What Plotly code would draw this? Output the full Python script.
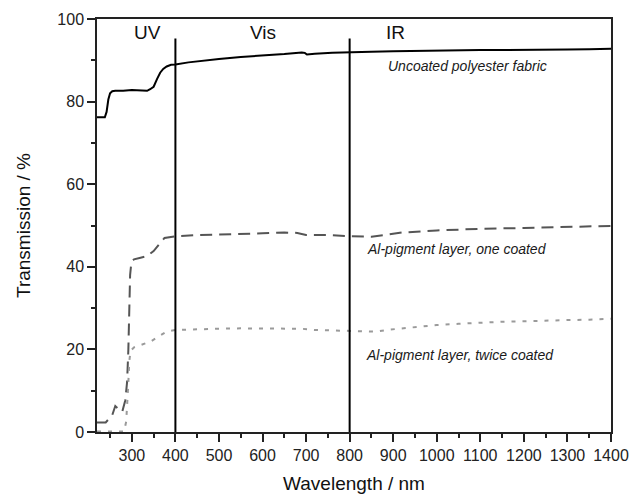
import plotly.graph_objects as go

# ---- data ----
wl_uncoated = [220, 238, 242, 246, 250, 255, 262, 280, 300, 320,
               335, 342, 350, 358, 365, 372, 380, 390, 400, 430,
               460, 500, 550, 600, 650, 690, 697, 702, 720, 760,
               800, 850, 900, 950, 1000, 1050, 1100, 1150, 1200, 1250,
               1300, 1350, 1400]
t_uncoated = [76.2, 76.2, 77.5, 80.5, 82.0, 82.5, 82.6, 82.6, 82.8, 82.7,
              82.6, 83.0, 83.6, 85.5, 87.0, 87.9, 88.5, 88.9, 89.0, 89.5,
              89.9, 90.3, 90.8, 91.1, 91.5, 91.9, 91.8, 91.4, 91.6, 91.8,
              92.0, 92.1, 92.2, 92.3, 92.3, 92.4, 92.5, 92.5, 92.5, 92.6,
              92.6, 92.7, 92.8]

wl_once = [220, 240, 255, 262, 270, 278, 285, 289, 292, 294,
           296, 299, 305, 320, 335, 350, 362, 375, 400, 450,
           500, 550, 600, 650, 680, 700, 750, 800, 850, 880,
           920, 1000, 1100, 1200, 1300, 1400]
t_once = [2.3, 2.3, 4.1, 6.3, 5.5, 4.9, 7.7, 12, 20, 30,
          38, 41.2, 41.8, 42.2, 42.6, 43.8, 45.3, 47.0, 47.4, 47.7,
          47.8, 47.9, 48.1, 48.3, 48.2, 47.7, 47.7, 47.4, 47.3, 47.7,
          48.3, 48.8, 49.2, 49.4, 49.6, 49.9]

wl_twice = [220, 282, 287, 290, 292, 294, 297, 305, 320, 343,
            361, 380, 400, 450, 500, 550, 600, 650, 690, 720,
            760, 800, 830, 860, 893, 950, 1000, 1050, 1100, 1150,
            1200, 1250, 1300, 1350, 1400]
t_twice = [0.1, 0.1, 2.5, 7, 12, 17, 19.6, 20.5, 21.0, 21.9,
           23.1, 24.3, 24.7, 24.9, 25.0, 25.1, 25.1, 25.1, 25.0, 24.7,
           24.6, 24.4, 24.3, 24.3, 24.8, 25.4, 25.9, 26.2, 26.5, 26.7,
           26.8, 27.0, 27.1, 27.2, 27.4]

region_bounds = [400, 800]
region_top = 95.3
region_labels = ["UV", "Vis", "IR"]
region_label_x = [336, 600, 905]
region_label_y = 96.8

curve_labels = ["Uncoated polyester fabric",
                "Al-pigment layer, one coated",
                "Al-pigment layer, twice coated"]
curve_label_x = [1070, 1047, 1054]
curve_label_y = [88.6, 44.3, 18.6]

FONT = "Arial, 'Liberation Sans', sans-serif"

fig = go.Figure()

fig.add_trace(go.Scatter(x=wl_uncoated, y=t_uncoated, mode="lines",
                         line=dict(color="#000000", width=2),
                         name=curve_labels[0], showlegend=False))
fig.add_trace(go.Scatter(x=wl_once, y=t_once, mode="lines",
                         line=dict(color="#555555", width=2, dash="12px,7px"),
                         name=curve_labels[1], showlegend=False))
fig.add_trace(go.Scatter(x=wl_twice, y=t_twice, mode="lines",
                         line=dict(color="#9a9a9a", width=2, dash="4px,7px"),
                         name=curve_labels[2], showlegend=False))

for b in region_bounds:
    fig.add_trace(go.Scatter(x=[b, b], y=[0, region_top], mode="lines",
                             line=dict(color="#000000", width=2),
                             showlegend=False, hoverinfo="skip"))

for txt, x in zip(region_labels, region_label_x):
    fig.add_annotation(x=x, y=region_label_y, text=txt, showarrow=False,
                       font=dict(family=FONT, size=19, color="#111111"),
                       xanchor="center", yanchor="middle")

for txt, x, y in zip(curve_labels, curve_label_x, curve_label_y):
    fig.add_annotation(x=x, y=y, text="<i>" + txt + "</i>", showarrow=False,
                       font=dict(family=FONT, size=14, color="#1a1a1a"),
                       xanchor="center", yanchor="middle")

fig.update_layout(
    width=632, height=494,
    margin=dict(l=97, r=21, t=19, b=62),
    paper_bgcolor="white", plot_bgcolor="white",
    font=dict(family=FONT, color="#111111"),
    showlegend=False,
)

fig.update_xaxes(
    range=[220, 1400], tick0=0, dtick=100, automargin=False,
    ticks="outside", ticklen=8, tickwidth=1.5, tickcolor="#222222",
    minor=dict(dtick=50, ticks="outside", ticklen=4, tickwidth=1.5, tickcolor="#222222"),
    showline=True, linecolor="#222222", linewidth=1.5, mirror=True,
    showgrid=False, zeroline=False,
    tickfont=dict(family=FONT, size=16, color="#222222"),
    title=dict(text="Wavelength / nm", font=dict(family=FONT, size=19, color="#111111"), standoff=16),
)
fig.update_yaxes(
    range=[0, 100], tick0=0, dtick=20, automargin=False,
    ticks="outside", ticklen=8, tickwidth=1.5, tickcolor="#222222",
    minor=dict(dtick=10, ticks="outside", ticklen=4, tickwidth=1.5, tickcolor="#222222"),
    showline=True, linecolor="#222222", linewidth=1.5, mirror=True,
    showgrid=False, zeroline=False,
    tickfont=dict(family=FONT, size=16, color="#222222"),
    title=dict(text="Transmission / %", font=dict(family=FONT, size=19, color="#111111"), standoff=22),
)

fig.write_html("out.html")
